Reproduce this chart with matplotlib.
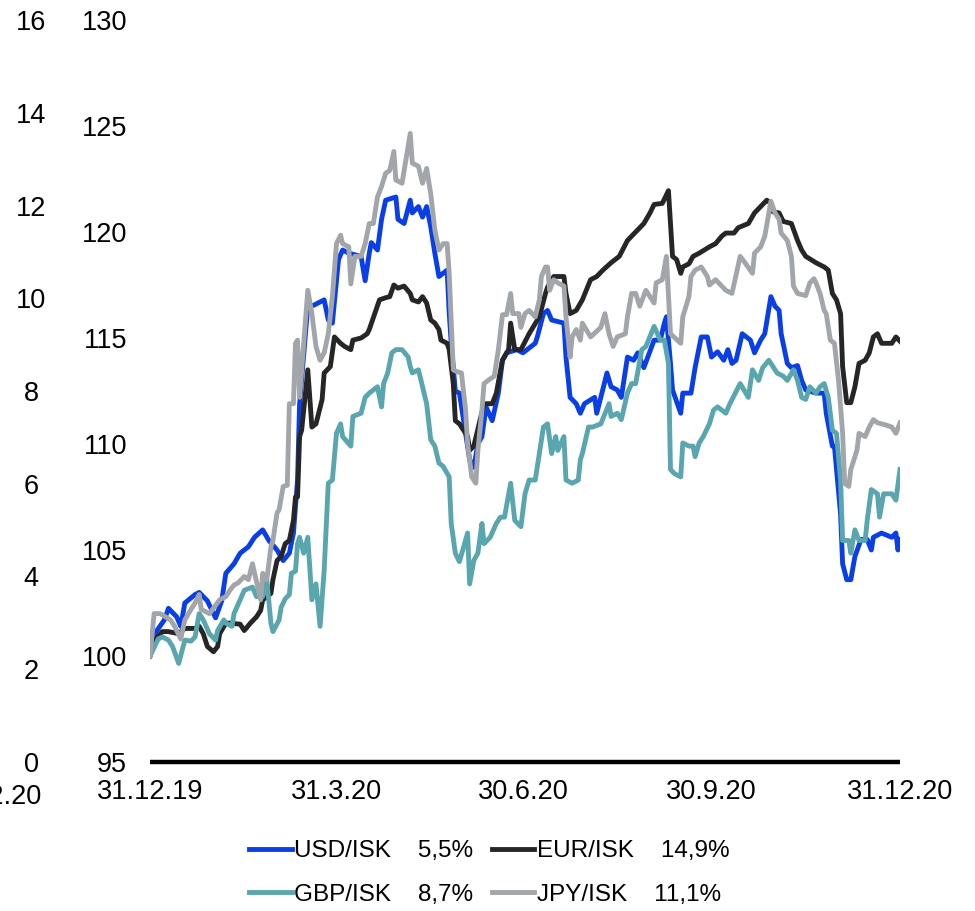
import matplotlib
matplotlib.use('Agg')
import matplotlib.pyplot as plt
import numpy as np

plt.rcParams['font.family'] = ['Liberation Sans', 'DejaVu Sans']

# day offsets from 31.12.2019 and index values (31.12.2019 = 100)
usd_days = [0, 3, 7, 9, 13, 15, 17, 22, 24, 28, 32, 35, 37, 41, 44, 48, 51, 55, 58, 62, 65, 68, 70, 72, 73,
            77, 80, 85, 87, 89, 92, 94, 97, 103, 105, 107, 108, 111, 113, 115, 120, 121, 124, 127, 128, 131,
            133, 135, 137, 139, 141, 145, 146, 147, 149, 151, 156, 158, 160, 162, 164, 167, 170, 172, 174,
            179, 182, 188, 189, 192, 194, 196, 202, 203, 205, 208, 210, 212, 217, 218, 220, 223, 225, 228,
            230, 233, 236, 238, 241, 246, 249, 251, 252, 254, 255, 259, 260, 264, 266, 269, 272, 274, 277,
            280, 282, 284, 286, 289, 293, 295, 298, 300, 303, 305, 307, 308, 311, 313, 316, 318, 320, 325,
            329, 330, 333, 334, 337, 338, 340, 342, 344, 347, 350, 352, 353, 357, 362, 364, 365, 366]
usd = [100.0, 101.15, 101.7, 102.25, 101.85, 101.4, 102.5, 102.9, 103.0, 102.6, 101.8, 102.6, 103.9, 104.35,
       104.85, 105.15, 105.6, 105.95, 105.45, 105.0, 104.5, 104.85, 105.8, 108.3, 111.9,
       116.5, 116.55, 116.8, 115.85, 115.7, 118.7, 119.15, 119.0, 118.85, 117.7, 119.0, 119.5, 119.15, 120.6,
       121.5, 121.65, 120.6, 120.4, 121.5, 120.9, 121.2, 120.7, 121.2, 120.25, 119.0, 117.9, 118.2, 116.2,
       114.75, 112.5, 112.4, 109.25, 108.9, 110.0, 110.35, 111.75, 111.1, 112.4, 113.95, 114.3,
       114.45, 114.3, 114.75, 115.05, 116.15, 116.3, 115.85, 115.7, 114.1, 112.2, 111.9, 111.45, 111.9, 112.2,
       111.45, 112.2, 113.35, 112.7, 112.55, 112.2, 114.1, 113.95, 114.3, 113.6, 114.9, 114.9, 115.7, 116.0,
       113.8, 112.55, 111.45, 112.4, 112.4, 113.6, 115.05, 115.05, 114.1, 114.35, 113.95, 114.45, 113.8,
       113.95, 115.2, 114.9, 114.3, 114.9, 115.2, 116.95, 116.5, 116.3, 115.2, 113.8, 113.6, 113.7, 113.0,
       112.55, 112.4, 112.4, 111.45, 109.9, 109.9, 106.7, 104.35, 103.6, 103.6, 104.7, 105.5, 105.5, 105.0,
       105.6, 105.8, 105.6, 105.8, 105.0, 105.5]

eur_days = [0, 3, 6, 9, 14, 17, 22, 24, 26, 28, 31, 33, 34, 37, 39, 44, 46, 49, 52, 54, 55, 59, 60, 62, 64,
            66, 68, 70, 71, 72, 73, 74, 77, 79, 81, 84, 85, 88, 90, 93, 95, 98, 99, 103, 106, 107, 112, 115,
            117, 119, 121, 124, 127, 128, 131, 133, 135, 137, 139, 141, 142, 145, 146, 148, 149, 151, 155,
            156, 158, 163, 167, 169, 172, 175, 176, 178, 181, 185, 190, 193, 194, 197, 202, 203, 205, 208,
            211, 215, 218, 221, 225, 229, 233, 238, 241, 244, 246, 250, 253, 255, 257, 259, 260, 263, 265,
            268, 273, 276, 279, 281, 285, 287, 292, 295, 298, 301, 303, 304, 307, 309, 313, 316, 318, 320,
            325, 329, 331, 333, 335, 337, 338, 340, 342, 344, 346, 349, 351, 353, 355, 357, 362, 364, 366]
eur = [100.0, 100.8, 101.15, 101.15, 101.05, 101.3, 101.3, 101.4, 101.05, 100.45, 100.2, 100.45, 101.05,
       101.55, 101.55, 101.5, 101.2, 101.55, 101.85, 102.15, 102.65, 102.95, 103.6, 104.5, 104.7,
       105.3, 105.45, 106.4, 107.5, 107.5, 110.35, 110.65, 113.5, 110.8, 110.95, 112.1, 113.35, 113.65,
       115.05, 114.75, 114.6, 114.45, 114.9, 115.0, 115.2, 115.4, 116.8, 116.9, 116.95, 117.5, 117.35,
       117.45, 117.1, 116.8, 116.7, 116.95, 116.65, 115.85, 115.7, 115.4, 114.9, 114.75, 114.45, 112.85,
       111.1, 110.95, 110.35, 109.7, 109.9, 111.9, 111.9, 112.4, 113.95, 114.45, 115.7, 114.45, 114.45,
       115.2, 116.0, 117.1, 117.4, 117.9, 117.9, 117.1, 116.15, 116.3, 116.8, 117.75, 117.9, 118.2, 118.55,
       118.85, 119.6, 120.1, 120.4, 120.9, 121.3, 121.35, 121.95, 118.85, 118.7, 118.05, 118.35, 118.5,
       118.85, 119.0, 119.3, 119.45, 119.8, 119.95, 119.95, 120.2, 120.4, 120.9, 121.2, 121.5, 121.35,
       120.95, 120.9, 120.5, 120.4, 119.6, 119.15, 118.85, 118.55, 118.35, 118.2, 117.1, 116.8, 116.15,
       113.65, 111.95, 111.95, 112.7, 113.8, 113.95, 114.3, 115.05, 115.2, 114.75, 114.75, 115.05, 114.85]

gbp_days = [0, 4, 6, 9, 11, 14, 17, 20, 22, 24, 26, 29, 32, 33, 36, 37, 40, 41, 44, 46, 50, 52, 55, 57, 59,
            60, 63, 64, 66, 68, 69, 71, 72, 73, 75, 77, 79, 81, 83, 85, 87, 89, 91, 93, 94, 98, 99, 103,
            105, 107, 111, 113, 114, 116, 118, 120, 123, 126, 127, 128, 131, 133, 135, 137, 139, 141, 143,
            146, 147, 149, 151, 155, 156, 158, 160, 162, 163, 166, 169, 171, 173, 176, 178, 181, 183, 185,
            188, 190, 192, 194, 196, 198, 199, 202, 203, 206, 209, 210, 211, 214, 216, 220, 224, 225, 228,
            230, 233, 235, 237, 240, 242, 246, 249, 251, 253, 254, 256, 259, 260, 263, 265, 266, 268, 270,
            273, 275, 277, 281, 283, 288, 292, 294, 297, 299, 302, 306, 309, 311, 314, 316, 318, 320, 322,
            325, 327, 329, 331, 333, 335, 337, 338, 341, 342, 344, 346, 349, 350, 352, 355, 356, 358, 362,
            364, 366]
gbp = [100.0, 100.8, 100.9, 100.75, 100.45, 99.65, 100.75, 100.7, 100.9, 102.0, 101.7, 101.05, 100.75,
       101.2, 101.7, 101.55, 101.4, 102.0, 102.65, 103.1, 103.25, 102.8, 102.8, 103.6, 101.55,
       101.15, 101.7, 102.3, 102.7, 102.9, 103.9, 104.0, 105.3, 105.6, 104.85, 105.6, 102.65, 103.4, 101.4,
       104.05, 108.15, 108.3, 110.5, 110.95, 110.35, 109.9, 111.3, 111.45, 112.2, 112.4, 112.7, 111.75,
       112.85, 113.35, 114.3, 114.45, 114.45, 114.1, 113.65, 113.35, 113.5, 112.7, 111.9, 110.2, 109.9,
       109.1, 108.95, 108.45, 106.25, 104.85, 104.45, 105.8, 103.4, 104.5, 104.85, 106.25, 105.3, 105.6,
       106.25, 106.55, 106.55, 108.15, 106.4, 106.1, 107.65, 108.3, 108.3, 109.55, 110.8, 110.95, 109.55,
       110.35, 109.7, 110.35, 108.3, 108.15, 108.3, 109.25, 109.55, 110.8, 110.8, 110.95, 111.9, 111.3,
       111.45, 111.15, 112.4, 112.85, 112.85, 114.45, 114.6, 115.55, 114.9, 114.9, 113.8, 108.8, 108.6,
       108.45, 110.05, 109.9, 109.9, 109.4, 110.05, 110.35, 110.95, 111.6, 111.75, 111.45, 111.9, 112.85,
       112.2, 113.5, 113.0, 113.6, 113.95, 113.35, 113.2, 113.0, 113.5, 113.0, 112.2, 112.1, 112.7, 112.4,
       112.7, 112.85, 112.2, 110.65, 110.5, 108.3, 105.45, 105.45, 104.85, 105.95, 105.45, 105.45, 106.4,
       107.85, 107.65, 106.55, 107.65, 107.65, 107.35, 108.8]

jpy_days = [0, 2, 5, 10, 12, 15, 17, 20, 22, 24, 25, 29, 34, 37, 39, 41, 43, 46, 48, 50, 54, 55, 57, 59,
            60, 62, 63, 65, 67, 68, 70, 71, 72, 73, 77, 79, 81, 83, 85, 87, 89, 91, 93, 94, 97, 98, 100,
            103, 105, 107, 109, 111, 113, 115, 117, 119, 120, 123, 127, 128, 131, 133, 135, 137, 139, 141,
            143, 145, 146, 148, 150, 152, 154, 155, 157, 159, 160, 162, 163, 165, 168, 170, 172, 174, 176,
            177, 180, 181, 183, 185, 188, 190, 191, 193, 194, 195, 197, 199, 202, 203, 205, 206, 208, 210,
            211, 215, 220, 222, 224, 226, 228, 232, 233, 235, 237, 239, 242, 246, 247, 250, 252, 254, 259,
            260, 263, 264, 266, 269, 272, 273, 276, 279, 281, 284, 288, 290, 294, 295, 298, 300, 302, 303,
            305, 307, 308, 311, 313, 314, 316, 320, 322, 324, 325, 327, 329, 330, 332, 334, 336, 338, 339,
            341, 342, 345, 346, 349, 351, 353, 355, 359, 362, 364, 366]
jpy = [100.0, 102.0, 102.0, 101.7, 101.4, 100.8, 101.7, 102.2, 102.5, 102.9, 102.2, 102.0, 102.65, 102.8,
       103.1, 103.35, 103.45, 103.75, 103.6, 104.35, 102.65, 103.9, 103.6, 105.15,
       105.45, 106.75, 106.9, 108.0, 108.05, 111.9, 111.9, 114.75, 114.9, 112.2, 117.25, 116.15, 114.6,
       113.95, 114.3, 115.2, 116.95, 119.45, 119.85, 119.45, 119.3, 117.55, 118.85,
       118.85, 119.45, 120.4, 120.4, 121.65, 122.15, 122.77, 122.9, 123.8, 122.45, 122.3, 124.65, 123.25,
       123.1, 122.3, 123.0, 121.8, 120.1, 119.15, 119.45, 119.45, 118.05, 113.5, 113.4, 113.35, 111.6,
       110.0, 108.45, 108.15, 109.7, 111.6, 112.85, 113.0, 113.2, 114.45, 116.1, 116.1, 117.1,
       116.15, 116.15, 115.5, 116.15, 116.3, 116.0, 116.8, 117.9, 118.35, 118.35, 117.25, 117.75, 117.6,
       117.45, 116.0, 114.1, 115.05, 115.4, 114.9, 115.7, 115.05, 115.5, 116.15, 115.2, 114.6, 115.05,
       115.2, 116.0, 117.1, 117.1, 116.5, 117.25, 116.65, 117.6, 117.75, 118.85, 115.2, 114.75, 116.0,
       116.95, 117.9, 118.2, 118.35, 117.9, 117.5, 117.75, 117.45, 117.25, 117.1, 118.85, 118.6,
       118.05, 119.0, 119.3, 119.8, 120.9, 121.45, 120.9, 120.6, 119.95, 119.6, 118.85, 117.45, 117.1,
       117.0, 117.6, 117.8, 117.6, 117.1, 116.3, 116.15, 114.9, 114.75, 113.0, 110.5, 108.15, 108.0,
       108.8, 109.7, 110.5, 110.35, 110.8, 111.15, 111.0, 110.9, 110.8, 110.5, 111.0]

names = ['USD/ISK', 'EUR/ISK', 'GBP/ISK', 'JPY/ISK']
changes = ['5,5%', '14,9%', '8,7%', '11,1%']
colors = ['#0A3FE8', '#262626', '#5AA6AE', '#A2A6AB']

tick_days = [0, 91, 182, 274, 366]
tick_labels = ['31.12.19', '31.3.20', '30.6.20', '30.9.20', '31.12.20']

fig = plt.figure(figsize=(9.75, 9.11), dpi=100)
ax = fig.add_axes([150 / 975, 1 - 762 / 911, 750 / 975, 742 / 911])

series = [(usd_days, usd), (eur_days, eur), (gbp_days, gbp), (jpy_days, jpy)]
lines = []
for (d, v), name, ch, c in zip(series, names, changes, colors):
    ln, = ax.plot(d, v, color=c, lw=3.5, label=f'{name}    {ch}', solid_joinstyle='round')
    lines.append(ln)

ax.set_xlim(0, 366)
ax.set_ylim(95, 130)
ax.set_yticks(np.arange(95, 131, 5))
ax.set_xticks(tick_days)
ax.set_xticklabels(tick_labels)
for s in ['top', 'right', 'left']:
    ax.spines[s].set_visible(False)
ax.spines['bottom'].set_linewidth(3.2)
ax.spines['bottom'].set_capstyle('butt')
ax.tick_params(axis='both', length=0, labelsize=19.5)
ax.tick_params(axis='y', pad=16.5)
ax.tick_params(axis='x', pad=12)

# secondary left axis 0-16
ax2 = ax.twinx()
ax2.set_ylim(0, 16)
ax2.set_yticks(np.arange(0, 17, 2))
ax2.yaxis.set_ticks_position('left')
for s in ['top', 'right', 'left', 'bottom']:
    ax2.spines[s].set_visible(False)
ax2.tick_params(axis='y', length=0, labelsize=19.5, pad=85.5)
for lab in ax2.get_yticklabels():
    lab.set_horizontalalignment('center')

fig.text(42 / 975, 1 - 797 / 911, '31.12.20', ha='right', va='center', fontsize=19.5)

order = [0, 2, 1, 3]
fig.legend([lines[i] for i in order], [lines[i].get_label() for i in order],
           loc='center', bbox_to_anchor=(0.502, 1 - 873 / 911), ncol=2, frameon=False,
           fontsize=17.5, handlelength=1.75, handletextpad=0.12, columnspacing=0.75,
           labelspacing=0.9, borderpad=0)

fig.savefig('out.png', dpi=100)
